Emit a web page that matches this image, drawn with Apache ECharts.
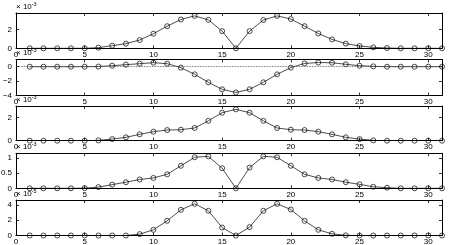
<!DOCTYPE html>
<html><head><meta charset="utf-8">
<script src="https://cdn.jsdelivr.net/npm/echarts@6/dist/echarts.min.js"></script>
<style>html,body{margin:0;padding:0;background:#fff}#c{width:452px;height:245px}</style>
</head><body><div id="c"></div>
<script>
const nValues = [1,2,3,4,5,6,7,8,9,10,11,12,13,14,15,16,17,18,19,20,21,22,23,24,25,26,27,28,29,30,31];
const series1 = [0,0,0,0,0,0.07,0.28,0.5,0.89,1.57,2.38,3.1,3.49,3.06,1.85,0,1.85,3.04,3.49,3.15,2.38,1.6,0.96,0.5,0.25,0.1,0.03,0,0,0,0];
const series2 = [0,0,0,0,0,0.02,0.14,0.28,0.42,0.56,0.42,-0.13,-1.06,-2.17,-3.14,-3.58,-3.14,-2.17,-1.06,-0.13,0.45,0.58,0.55,0.33,0.14,0.05,0,0,0,0,0];
const series3 = [0,0,0,0,0,0.03,0.14,0.29,0.55,0.78,0.92,0.95,1.1,1.72,2.42,2.71,2.42,1.72,1.1,0.95,0.92,0.78,0.55,0.29,0.14,0.03,0,0,0,0,0];
const series4 = [0,0,0,0,0.005,0.04,0.12,0.2,0.29,0.34,0.46,0.74,1.02,1.05,0.66,0,0.68,1.05,1.02,0.74,0.46,0.34,0.29,0.2,0.13,0.05,0.02,0,0,0,0];
const series5 = [0,0,0,0,0,0,0,0,0.18,0.75,1.93,3.38,4.17,3.25,1.05,0,1.1,3.25,4.17,3.42,1.93,0.75,0.22,0.02,0,0,0,0,0,0,0];
const xTickValues = [0,5,10,15,20,25,30];
const yTickValues = [[0,2],[-4,-2,0],[0,2],[0,0.5,1],[0,2,4]];
const yRanges = [[0,3.8],[-4,1],[0,3],[0,1.15],[0,4.67]];
const exponents = ['-3','-3','-3','-3','-5'];
const allSeries = [series1,series2,series3,series4,series5];

const gridTops = [13,59.5,106,153.3,200];
const gridHeights = [35.3,36,34.7,35,35.5];
const FONT = 'Liberation Sans, Arial, Helvetica, sans-serif';
const grids=[],xAxes=[],yAxes=[],seriesList=[];
allSeries.forEach((vals,i)=>{
  grids.push({left:16,right:10,top:gridTops[i],height:gridHeights[i],outerBoundsMode:'none',containLabel:false});
  const axLine={show:true,onZero:false,lineStyle:{color:'#000',width:1}};
  const xBase={type:'value',gridIndex:i,min:0,max:31,axisLine:axLine,splitLine:{show:false}};
  xAxes.push(Object.assign({},xBase,{position:'bottom',
    axisTick:{show:true,inside:true,length:3,lineStyle:{color:'#000',width:0.8},customValues:xTickValues},
    axisLabel:{show:true,customValues:xTickValues,color:'#000',fontSize:8,fontFamily:FONT,margin:2}}));
  xAxes.push(Object.assign({},xBase,{position:'top',
    axisTick:{show:true,inside:true,length:3,lineStyle:{color:'#000',width:0.8},customValues:xTickValues},
    axisLabel:{show:false}}));
  const yBase={type:'value',gridIndex:i,min:yRanges[i][0],max:yRanges[i][1],axisLine:axLine,splitLine:{show:false}};
  yAxes.push(Object.assign({},yBase,{position:'left',
    name:'× 10{s|'+exponents[i]+'}',nameLocation:'end',nameGap:1,
    nameTextStyle:{align:'left',verticalAlign:'bottom',color:'#000',fontSize:8,fontFamily:FONT,padding:[0,0,0,0],
      rich:{s:{fontSize:5.5,verticalAlign:'top',padding:[0,0,5,0],color:'#000',fontFamily:FONT}}},
    axisTick:{show:true,inside:true,length:3,lineStyle:{color:'#000',width:0.8},customValues:yTickValues[i]},
    axisLabel:{show:true,customValues:yTickValues[i],color:'#000',fontSize:8,fontFamily:FONT,margin:4,
      formatter:v=>(v<0?'\u2212'+String(-v):String(v))}}));
  yAxes.push(Object.assign({},yBase,{position:'right',
    axisTick:{show:true,inside:true,length:3,lineStyle:{color:'#000',width:0.8},customValues:yTickValues[i]},
    axisLabel:{show:false}}));
  const s={type:'line',xAxisIndex:2*i,yAxisIndex:2*i,
    data:nValues.map((n,k)=>[n,vals[k]]),
    symbol:'circle',symbolSize:5,showSymbol:true,
    lineStyle:{color:'#000',width:0.7},
    itemStyle:{color:'rgba(0,0,0,0)',borderColor:'#000',borderWidth:0.7},
    emphasis:{disabled:true},silent:true,animation:false,z:3};
  if(i===1){
    s.markLine={silent:true,symbol:'none',label:{show:false},animation:false,
      lineStyle:{type:'dotted',color:'#444',width:0.8},data:[{yAxis:0}]};
  }
  seriesList.push(s);
});
const chart=echarts.init(document.getElementById('c'),null,{renderer:'canvas'});
chart.setOption({animation:false,backgroundColor:'#fff',grid:grids,xAxis:xAxes,yAxis:yAxes,series:seriesList,tooltip:{show:false}});
</script></body></html>
